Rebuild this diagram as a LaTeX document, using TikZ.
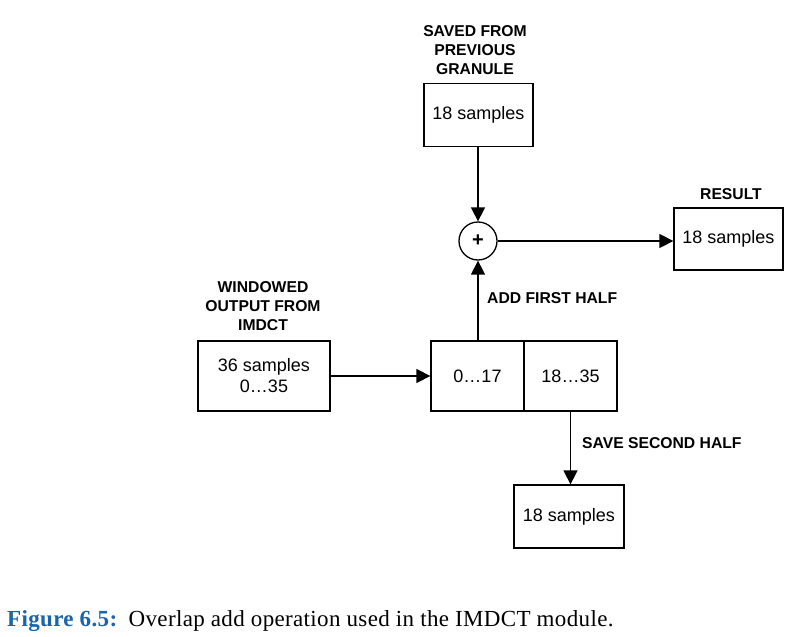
\documentclass[tikz,border=0pt]{standalone}
\usepackage{fontspec}
\setmainfont{Liberation Sans}
\newfontfamily\capfont[LetterSpace=1.5]{Liberation Serif}
\usetikzlibrary{arrows.meta}
\definecolor{capblue}{RGB}{25,100,170}
\begin{document}
\begin{tikzpicture}[x=1pt,y=-1pt,
  box/.style={draw,line width=1.3pt,rectangle,inner sep=0pt,align=center,
    font=\fontsize{18}{21}\selectfont},
  lbl/.style={inner sep=0pt,align=center,font=\fontsize{15.7}{19}\selectfont\bfseries},
  conn/.style={line width=1.4pt,-{Triangle[width=14pt,length=14pt]}}]
\fill[white] (0,0) rectangle (806,637);
\useasboundingbox (0,0) rectangle (806,637);
% boxes
\node[box,minimum width=109pt,minimum height=63pt] (top) at (478.5,115) {18 samples};
\node[draw,line width=1.3pt,circle,minimum size=38pt,inner sep=0pt,font=\fontsize{20}{20}\selectfont\bfseries] (sum) at (478,241) {+};
\node[box,minimum width=109pt,minimum height=62pt] (res) at (728.5,239) {18 samples};
\node[box,minimum width=132pt,minimum height=70pt] (win) at (264,376) {36 samples\\0…35};
\node[box,minimum width=93pt,minimum height=70pt] (sl) at (477.5,376) {0…17};
\node[box,minimum width=93pt,minimum height=70pt] (sr) at (570.5,376) {18…35};
\node[box,minimum width=110pt,minimum height=63pt] (bot) at (569,516.5) {18 samples};
% labels
\node[lbl] (lsaved) at (475,50) {SAVED FROM\\PREVIOUS\\GRANULE};
\node[lbl] (lres) at (731,194) {RESULT};
\node[lbl] (lwin) at (263,306) {WINDOWED\\OUTPUT FROM\\IMDCT};
\node[lbl,anchor=west] (ladd) at (487,298) {ADD FIRST HALF};
\node[lbl,anchor=west] (lsave) at (582,443) {SAVE SECOND HALF};
% connectors
\draw[conn] (top.south -| sum.north) -- (sum.north);
\draw[conn] (sum.east) -- (sum.east -| res.west);
\draw[conn] (sl.north -| sum.south) -- (sum.south);
\draw[conn] (win.east) -- (sl.west);
\draw[conn] (sr.south) -- (sr.south |- bot.north);
% caption
\node[anchor=base west,inner sep=0pt,font=\capfont\fontsize{23}{26}\selectfont] (cap) at (7,626)
  {{\color{capblue}\bfseries Figure 6.5:}\hspace{0.5em}Overlap add operation used in the IMDCT module.};
\end{tikzpicture}
\end{document}
